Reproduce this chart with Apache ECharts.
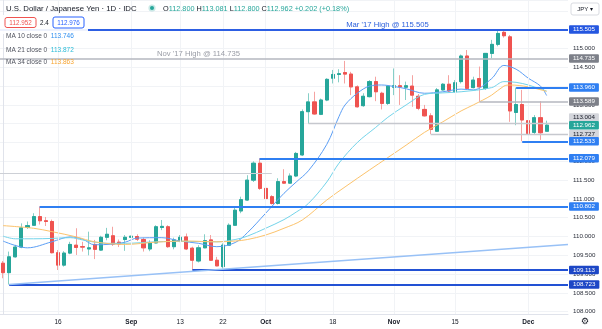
<!DOCTYPE html>
<html>
<head>
<meta charset="utf-8">
<script src="https://cdn.jsdelivr.net/npm/echarts/dist/echarts.min.js"></script>
<style>
html,body{margin:0;padding:0;background:#ffffff;}
#chart{width:602px;height:329px;}
</style>
</head>
<body>
<div id="chart"></div>
<script>
// ---- categories (trading days) ----
const dates = [
'2021-08-03','2021-08-04','2021-08-05','2021-08-06','2021-08-09','2021-08-10','2021-08-11','2021-08-12','2021-08-13','2021-08-16','2021-08-17','2021-08-18','2021-08-19','2021-08-20','2021-08-23','2021-08-24','2021-08-25','2021-08-26','2021-08-27','2021-08-30','2021-08-31',
'2021-09-01','2021-09-02','2021-09-03','2021-09-06','2021-09-07','2021-09-08','2021-09-09','2021-09-10','2021-09-13','2021-09-14','2021-09-15','2021-09-16','2021-09-17','2021-09-20','2021-09-21','2021-09-22','2021-09-23','2021-09-24','2021-09-27','2021-09-28','2021-09-29','2021-09-30',
'2021-10-01','2021-10-04','2021-10-05','2021-10-06','2021-10-07','2021-10-08','2021-10-11','2021-10-12','2021-10-13','2021-10-14','2021-10-15','2021-10-18','2021-10-19','2021-10-20','2021-10-21','2021-10-22','2021-10-25','2021-10-26','2021-10-27','2021-10-28','2021-10-29',
'2021-11-01','2021-11-02','2021-11-03','2021-11-04','2021-11-05','2021-11-08','2021-11-09','2021-11-10','2021-11-11','2021-11-12','2021-11-15','2021-11-16','2021-11-17','2021-11-18','2021-11-19','2021-11-22','2021-11-23','2021-11-24','2021-11-25','2021-11-26','2021-11-29','2021-11-30',
'2021-12-01','2021-12-02','2021-12-03','2021-12-06','2021-12-07','2021-12-08','2021-12-09'];

// ---- x tick labels ----
const tickDates  = ['2021-08-16','2021-09-01','2021-09-13','2021-09-22','2021-10-01','2021-10-18','2021-11-01','2021-11-15','2021-12-01'];
const tickLabels = ['16','Sep','13','22','Oct','18','Nov','15','Dec'];
const monthLabels = ['Sep','Oct','Nov','Dec'];

// ---- OHLC ----
const opens = [109.29,109.04,109.46,109.72,110.24,110.30,110.53,110.42,110.40,109.57,
109.24,109.56,109.77,109.73,109.67,109.79,109.64,109.98,110.02,109.85,
109.92,109.98,110.00,109.92,109.67,109.83,110.24,110.26,109.73,109.88,
109.99,109.69,109.35,109.70,109.91,109.37,109.20,109.77,110.30,110.68,
110.97,111.50,111.95,111.28,111.06,110.88,111.46,111.42,111.61,112.17,
113.32,113.58,113.25,113.63,114.21,114.31,114.36,114.32,113.98,113.48,
113.72,114.12,113.81,113.54,113.97,114.01,113.97,114.00,113.73,113.38,
113.21,112.80,113.90,114.05,113.85,114.12,114.80,113.96,114.20,113.94,
114.87,115.11,115.43,115.31,113.30,113.51,113.08,112.77,113.16,112.80];
const closes = [109.04,109.46,109.72,110.23,110.29,110.53,110.42,110.40,109.57,109.24,
109.56,109.79,109.71,109.72,109.70,109.66,109.98,110.06,109.80,109.80,
109.98,110.01,109.93,109.70,109.83,110.26,110.27,109.73,109.91,109.98,
109.67,109.37,109.70,109.89,109.37,109.22,109.77,110.30,110.70,110.98,
111.50,111.95,111.28,111.01,110.88,111.46,111.42,111.61,112.21,113.32,
113.58,113.26,113.63,114.18,114.31,114.33,114.32,113.98,113.45,113.73,
114.12,113.85,113.54,114.00,114.01,113.98,114.01,113.76,113.41,113.21,
112.85,113.90,114.05,113.87,114.09,114.80,113.94,114.16,113.98,114.87,
115.11,115.40,115.34,113.34,113.51,113.10,112.74,113.16,112.76,112.962];
const lows = [108.89,108.723,109.44,109.69,110.20,110.28,110.32,110.28,109.55,109.11,
109.20,109.53,109.51,109.60,109.50,109.40,109.62,109.90,109.75,109.72,
109.62,109.90,109.88,109.60,109.61,109.82,110.17,109.70,109.66,109.85,
109.64,109.113,109.31,109.69,109.35,109.21,109.15,109.77,110.28,110.62,
110.95,111.45,111.24,110.90,110.85,110.85,111.40,111.40,111.58,112.14,
113.004,113.24,113.23,113.60,114.07,114.10,114.07,113.76,113.43,113.45,
113.70,113.60,113.38,113.50,113.76,113.50,113.63,113.45,113.36,113.19,
112.727,112.78,113.88,113.84,113.83,114.07,113.92,113.94,113.589,113.90,
114.74,115.06,115.29,113.05,112.96,112.533,112.70,112.70,112.57,112.80];
const highs = [109.35,109.60,109.78,110.35,110.40,110.62,110.802,110.52,110.45,109.64,
109.61,109.86,110.22,109.86,110.13,109.91,110.02,110.23,110.26,109.92,
110.04,110.44,110.06,109.97,109.90,110.30,110.44,110.30,109.97,110.04,
110.08,109.73,109.77,110.06,110.04,109.46,109.82,110.35,110.79,111.06,
111.63,112.00,112.079,111.32,111.10,111.55,111.79,111.68,112.25,113.38,
113.81,113.85,113.67,114.21,114.43,114.45,114.67,114.38,114.02,113.81,
114.16,114.25,113.85,114.03,114.47,114.29,114.12,114.29,113.79,113.50,
113.28,113.95,114.08,114.29,114.16,114.84,114.96,114.25,114.52,114.88,
115.23,115.48,115.505,115.36,113.96,113.90,113.15,113.23,113.60,113.081];

// ---- moving averages (bar index, value) ----
const ma10Idx = [0,4,8,11,13,15,18,20,22,26,29,32,35,38,40,43,46,48,50,53,55,56,58,60,62,64,66,69,72,75,77,80,82,84,86,88,89];
const ma10Val = [109.88,109.70,109.86,109.99,109.93,109.78,109.80,109.85,109.96,109.97,109.88,109.82,109.73,109.84,110.10,110.62,111.15,111.45,111.75,112.45,113.19,113.50,113.81,114.00,114.03,113.99,113.93,113.81,113.85,113.92,113.90,114.20,114.55,114.45,114.21,114.00,113.75];
const ma21Idx = [0,2,5,8,11,13,15,17,20,25,30,35,38,40,43,46,48,50,53,55,58,61,63,66,69,72,75,80,82,84,86,88,89];
const ma21Val = [110.01,109.94,109.94,109.95,109.97,109.91,109.85,109.82,109.82,109.86,109.87,109.86,109.92,110.01,110.22,110.45,110.65,110.88,111.45,111.95,112.50,112.90,113.17,113.50,113.78,113.82,113.85,113.96,114.12,114.10,114.03,113.92,113.87];
const ma34Idx = [0,5,8,12,15,20,25,30,35,38,40,43,46,49,53,56,60,63,66,69,72,75,77,80,82,83,86,89];
const ma34Val = [110.29,110.22,110.13,109.99,109.86,109.79,109.85,109.88,109.86,109.88,109.92,110.04,110.22,110.44,110.97,111.32,111.77,112.10,112.43,112.77,113.05,113.34,113.50,113.76,114.00,114.03,113.98,113.86];

// ---- drawn horizontal levels ----
const levelPrices = [115.505,114.735,113.960,113.589,113.004,112.727,112.533,112.079,111.680,110.802,109.113,108.723];
const levelFrom   = [-0.5,-0.5,84,78,50,70,85,42,-0.5,6,31,1];
const levelTo     = [92.5,92.5,92.5,92.5,92.5,92.5,92.5,92.5,44,92.5,92.5,92.5];
const levelKinds  = ['blueD','grey','blue','grey','light','light','blue','blue','plain','blue','navy','navy'];
const lastPrice = 112.962;

// ---- trend line (two anchor points: bar index, price) ----
const trendIdx = [1, 92.5];
const trendVal = [108.723, 109.79];

// ---- legend texts ----
const titleText = 'U.S. Dollar / Japanese Yen \u00b7 1D \u00b7 IDC';
const ohlcText = ['112.800','113.081','112.800','112.962','+0.202 (+0.18%)'];
const maNames = ['MA 10 close 0','MA 21 close 0','MA 34 close 0'];
const maLast = ['113.746','113.872','113.863'];
const bidAsk = ['112.952','2.4','112.976'];
const annoTexts = ["Mar '17 High @ 115.505", "Nov '17 High @ 114.735"];

// =================================================================
const FF = '"Liberation Sans", Arial, sans-serif';
const N = dates.length;
const UP = '#26a69a', DOWN = '#ef5350';
const UP_W = '#86cfc7', DOWN_W = '#f5a3a1';
const kindStyle = {
  blueD:{line:'#2d5fe3', w:2, bg:'#2456e0', fg:'#ffffff'},
  blue: {line:'#2f7ff2', w:2, bg:'#2f7ff2', fg:'#ffffff'},
  navy: {line:'#2251d4', w:2, bg:'#1d47c6', fg:'#ffffff'},
  grey: {line:'#b4b7bf', w:1.6, bg:'#7d8089', fg:'#ffffff'},
  light:{line:'#c6c8ce', w:1.4, bg:'#d4d6dc', fg:'#131722'},
  plain:{line:'#cdd0d6', w:1.2, bg:null, fg:null}
};
const labelShift = {113.004:-6};
const tickMap = new Map(tickDates.map((d,i)=>[d, tickLabels[i]]));
const candleData = opens.map((o,i)=>[o, closes[i], lows[i], highs[i]]);
const bodyData = opens.map((o,i)=>[o, closes[i], Math.min(o,closes[i]), Math.max(o,closes[i])]);
const pairs = (xs, ys) => xs.map((x,i)=>[x, ys[i]]);

function boxLabel(text, bg, fg, dy) {
  return {show:true, position:'end', distance:1, formatter:text, backgroundColor:bg, color:fg,
    padding:[1.5,4,1,4], fontSize:6.2, fontFamily:FF, borderRadius:1, offset:[0, dy||0]};
}
const levelLines = levelPrices.map((p,k)=>{
  const s = kindStyle[levelKinds[k]];
  return [
    {coord:[levelFrom[k], p], lineStyle:{color:s.line, width:s.w, type:'solid'},
     label: s.bg ? boxLabel(p.toFixed(3), s.bg, s.fg, labelShift[p]) : {show:false}},
    {coord:[levelTo[k], p]}
  ];
});

const maStyles = [
  {name:'MA10', color:'#5b9ef5', idx:ma10Idx, val:ma10Val},
  {name:'MA21', color:'#74d4ea', idx:ma21Idx, val:ma21Val},
  {name:'MA34', color:'#fcc36c', idx:ma34Idx, val:ma34Val}
];

const option = {
  animation:false,
  backgroundColor:'#ffffff',
  grid:{left:0, right:34, top:0, bottom:15, containLabel:false},
  xAxis:[
    {type:'category', data:dates, boundaryGap:true,
     axisLine:{show:true, lineStyle:{color:'#e0e3eb'}},
     axisTick:{show:false},
     splitLine:{show:false},
     axisLabel:{interval:(i,v)=>tickMap.has(v), margin:5, fontSize:6.5, color:'#131722', fontFamily:FF,
       formatter:(v)=>{const t=tickMap.get(v)||''; return monthLabels.includes(t)?'{b|'+t+'}':t;},
       rich:{b:{fontWeight:'bold', fontSize:6.5, color:'#131722', fontFamily:FF}}}},
    {type:'value', min:-0.5, max:N-0.5, show:false}
  ],
  yAxis:{type:'value', position:'right', min:107.94, max:116.29, splitNumber:17, scale:true,
    axisLine:{show:true, lineStyle:{color:'#e0e3eb'}},
    axisTick:{show:false},
    axisLabel:{fontSize:6.2, color:'#2a2e39', margin:5, fontFamily:FF, showMinLabel:false, showMaxLabel:false,
      formatter:(v)=>v.toFixed(3)},
    splitLine:{show:true, lineStyle:{color:'#f1f3f6', width:1}}},
  series:[
    {type:'line', name:'vgrid', xAxisIndex:0, yAxisIndex:0, data:[], z:1, silent:true,
     markLine:{silent:true, symbol:['none','none'], animation:false, label:{show:false},
       lineStyle:{color:'#f1f3f6', width:1, type:'solid'},
       data: tickDates.map(d=>({xAxis:d}))}},
    {type:'candlestick', name:'wicks', xAxisIndex:0, yAxisIndex:0, data:candleData, z:3,
     barWidth:3.6, silent:true,
     itemStyle:{color:UP_W, color0:DOWN_W, borderColor:UP_W, borderColor0:DOWN_W, borderWidth:1}},
    {type:'candlestick', name:'USDJPY', xAxisIndex:0, yAxisIndex:0, data:bodyData, z:3,
     barWidth:3.6, silent:true,
     itemStyle:{color:UP, color0:DOWN, borderColor:UP, borderColor0:DOWN, borderWidth:1}},
    ...maStyles.map(m=>({type:'line', name:m.name, xAxisIndex:1, yAxisIndex:0, data:pairs(m.idx,m.val),
      smooth:0.35, showSymbol:false, symbol:'none', z:4, silent:true,
      lineStyle:{color:m.color, width:1}})),
    {type:'line', name:'trend', xAxisIndex:1, yAxisIndex:0, data:pairs(trendIdx,trendVal), z:5,
     showSymbol:false, symbol:'none', silent:true, lineStyle:{color:'#98c1f6', width:1.5},
     markLine:{silent:true, symbol:['none','none'], animation:false, data:levelLines}},
    {type:'line', name:'last', xAxisIndex:1, yAxisIndex:0, data:[], z:6, silent:true,
     markLine:{silent:true, symbol:['none','none'], animation:false,
       lineStyle:{color:'rgba(38,166,154,0.0)', width:1, type:'dotted'},
       label:boxLabel(lastPrice.toFixed(3), UP, '#ffffff'),
       data:[{yAxis:lastPrice}]}}
  ],
  graphic:[
    {type:'rect', shape:{x:0, y:15, width:88, height:19}, style:{fill:'rgba(255,255,255,0.92)'}, z:100},
    {type:'text', x:6, y:8.5, z:101, style:{text:titleText, font:'7.8px '+FF, fill:'#131722', verticalAlign:'middle'}},
    {type:'circle', shape:{cx:152, cy:8, r:3.6}, style:{fill:'rgba(38,166,154,0.25)'}, z:101},
    {type:'circle', shape:{cx:152, cy:8, r:2}, style:{fill:UP}, z:102},
    {type:'text', x:163, y:8.5, z:101, style:{
      text:'{l|O}{v|'+ohlcText[0]+'} {l|H}{v|'+ohlcText[1]+'} {l|L}{v|'+ohlcText[2]+'} {l|C}{v|'+ohlcText[3]+'} {v|'+ohlcText[4]+'}',
      font:'7.3px '+FF, verticalAlign:'middle',
      rich:{l:{fill:'#131722', font:'7.3px '+FF}, v:{fill:UP, font:'7.3px '+FF}}}},
    {type:'rect', shape:{x:5, y:17.5, width:31, height:10, r:2}, style:{fill:'#ffffff', stroke:DOWN, lineWidth:1}, z:101},
    {type:'text', x:20.5, y:22.8, z:102, style:{text:bidAsk[0], font:'6.3px '+FF, fill:DOWN, align:'center', verticalAlign:'middle'}},
    {type:'text', x:44.5, y:22.8, z:102, style:{text:bidAsk[1], font:'6.3px '+FF, fill:'#131722', align:'center', verticalAlign:'middle'}},
    {type:'rect', shape:{x:53, y:17, width:31, height:11, r:2}, style:{fill:'#ffffff', stroke:'#2962ff', lineWidth:1}, z:101},
    {type:'text', x:68.5, y:22.8, z:102, style:{text:bidAsk[2], font:'6.3px '+FF, fill:'#2962ff', align:'center', verticalAlign:'middle'}},
    ...maNames.map((nm,k)=>({type:'text', x:6, y:[36.7,50,62][k], z:101, style:{
      text:'{l|'+nm+'}  {v|'+maLast[k]+'}', verticalAlign:'middle', font:'6.5px '+FF,
      rich:{l:{fill:'#50535e', font:'6.5px '+FF}, v:{fill:['#2f8ff0','#2bbcd8','#f7a531'][k], font:'6.5px '+FF}}}})),
    {type:'text', x:387.5, y:24.5, z:101, style:{text:annoTexts[0], font:'7.7px '+FF, fill:'#2f62dc', align:'center', verticalAlign:'middle'}},
    {type:'text', x:198.5, y:53.5, z:101, style:{text:annoTexts[1], font:'7.7px '+FF, fill:'#9a9da6', align:'center', verticalAlign:'middle'}},
    {type:'rect', shape:{x:571, y:3, width:28, height:12, r:2}, style:{fill:'#ffffff', stroke:'#d9dbe1', lineWidth:1}, z:101},
    {type:'text', x:585, y:9.2, z:102, style:{text:'JPY \u25BE', font:'6px '+FF, fill:'#131722', align:'center', verticalAlign:'middle'}},
    {type:'text', x:585, y:321.5, z:102, style:{text:'\u2699', font:'9px "DejaVu Sans", sans-serif', fill:'#131722', align:'center', verticalAlign:'middle'}}
  ]
};
const chart = echarts.init(document.getElementById('chart'), null, {renderer:'canvas'});
chart.setOption(option);
</script>
</body>
</html>
